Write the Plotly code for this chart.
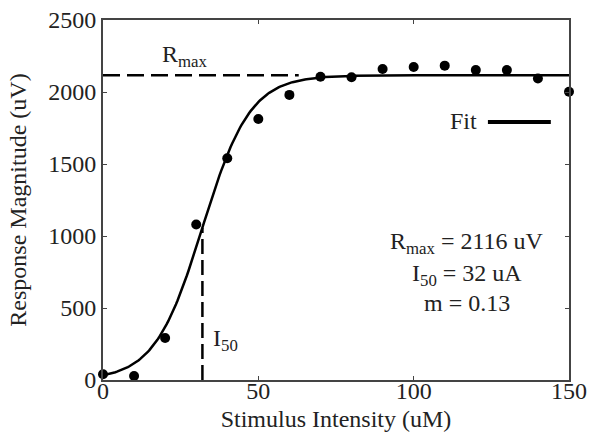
import numpy as np
import plotly.graph_objects as go

# Data
stim_x = [0, 10, 20, 30, 40, 50, 60, 70, 80, 90, 100, 110, 120, 130, 140, 150]
resp_y = [40, 28, 292, 1080, 1540, 1812, 1980, 2106, 2102, 2160, 2174, 2183, 2152, 2152, 2094, 2002]

# Fit parameters shown in the chart
R_MAX = 2116
I_50 = 32
M = 0.13
rmax_line_x = [0, 63]

fit_x = np.linspace(0, 150, 301)
fit_y = R_MAX / (1 + np.exp(-M * (fit_x - I_50)))
i50_y = R_MAX / (1 + np.exp(-M * (I_50 - I_50)))

FONT = "Liberation Serif"
FS = 24
TXT = "#222222"
AX = "#444444"

fig = go.Figure()
fig.add_trace(go.Scatter(x=rmax_line_x, y=[R_MAX, R_MAX], mode="lines",
                         line=dict(color="black", width=2.5, dash="17px,7px"),
                         showlegend=False, hoverinfo="skip"))
fig.add_trace(go.Scatter(x=[I_50, I_50], y=[0, i50_y], mode="lines",
                         line=dict(color="black", width=2.5, dash="15px,6px"),
                         showlegend=False, hoverinfo="skip"))
fig.add_trace(go.Scatter(x=fit_x, y=fit_y, mode="lines",
                         line=dict(color="black", width=2.5), showlegend=False))
fig.add_trace(go.Scatter(x=stim_x, y=resp_y, mode="markers",
                         marker=dict(color="black", size=10), showlegend=False,
                         cliponaxis=False))

axis_common = dict(showline=True, linecolor=AX, linewidth=2, mirror="ticks",
                   ticks="inside", ticklen=4, tickwidth=1, tickcolor=AX,
                   showgrid=False, zeroline=False, automargin=False,
                   tickfont=dict(family=FONT, size=FS, color=TXT))

fig.update_xaxes(range=[0, 150], tickvals=[0, 50, 100, 150], ticklabelstandoff=-12,
                 title=dict(text="Stimulus Intensity (uM)",
                            font=dict(family=FONT, size=FS, color=TXT)),
                 **axis_common)
fig.update_yaxes(range=[0, 2500], tickvals=[0, 500, 1000, 1500, 2000, 2500],
                 title=dict(text="Response Magnitude (uV)",
                            font=dict(family=FONT, size=FS, color=TXT)),
                 **axis_common)

fig.add_annotation(x=26.5, y=R_MAX, yshift=2, text="R<sub>max</sub>", showarrow=False,
                   xanchor="center", yanchor="bottom",
                   font=dict(family=FONT, size=FS, color=TXT))
fig.add_annotation(x=39.5, y=278, text="I<sub>50</sub>", showarrow=False,
                   xanchor="center", yanchor="middle",
                   font=dict(family=FONT, size=FS, color=TXT))
fig.add_annotation(xref="paper", yref="paper", x=0.807, y=0.72, text="Fit",
                   showarrow=False, xanchor="right", yanchor="middle",
                   font=dict(family=FONT, size=FS, color=TXT))
fig.add_shape(type="line", xref="paper", yref="paper", x0=0.826, x1=0.961,
              y0=0.717, y1=0.717, line=dict(color="black", width=4))

param_lines = ["R<sub>max</sub> = 2116 uV", "I<sub>50</sub> = 32 uA", "m = 0.13"]
param_y = [0.381, 0.292, 0.214]
for t, yy in zip(param_lines, param_y):
    fig.add_annotation(xref="paper", yref="paper", x=0.781, y=yy, text=t,
                       showarrow=False, xanchor="center", yanchor="middle",
                       font=dict(family=FONT, size=FS, color=TXT))

fig.update_layout(width=591, height=432, margin=dict(l=103, r=22, t=20, b=52),
                  paper_bgcolor="white", plot_bgcolor="white")

fig.write_html("out.html")
